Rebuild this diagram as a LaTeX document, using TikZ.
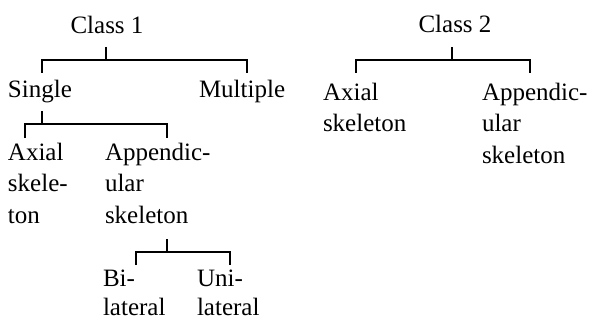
\documentclass[tikz,border=0pt]{standalone}
\usepackage{fontspec}
\setmainfont{Liberation Serif}
\begin{document}
\begin{tikzpicture}[x=1pt,y=1pt,
  lbl/.style={inner sep=0pt, outer sep=0pt, align=left, anchor=base west,
              font=\fontsize{25}{31.5}\selectfont},
  br/.style={line width=2pt, line cap=butt, line join=miter}]
\useasboundingbox (0,0) rectangle (592,-321);
% labels (multi-line nodes are placed by the baseline of their last line)
\node[lbl, anchor=base] (c1) at (107,-34) {Class 1};
\node[lbl, anchor=base] (c2) at (455,-33) {Class 2};
\node[lbl] (sg) at (8,-97) {Single};
\node[lbl] (mp) at (199,-97) {Multiple};
\node[lbl] (ax1) at (8,-223) {Axial\\skele-\\ton};
\node[lbl] (ap1) at (105,-223) {Appendic-\\ular\\skeleton};
\node[lbl, font=\fontsize{25}{29}\selectfont] (bi) at (103,-315.5) {Bi-\\lateral};
\node[lbl, font=\fontsize{25}{29}\selectfont] (un) at (197,-315.5) {Uni-\\lateral};
\node[lbl] (ax2) at (323,-131.5) {Axial\\skeleton};
\node[lbl] (ap2) at (482,-163) {Appendic-\\ular\\skeleton};
% junction coordinates
\coordinate (c1s) at (106,-47);  \coordinate (c1b) at (106,-60);
\coordinate (sgT) at (42,-73);   \coordinate (mpT) at (247,-73);
\coordinate (sgs) at (42,-111);  \coordinate (sgb) at (42,-124);
\coordinate (ax1T) at (25,-138); \coordinate (ap1T) at (167,-138);
\coordinate (ap1s) at (167,-239); \coordinate (ap1b) at (167,-252);
\coordinate (biT) at (136,-265); \coordinate (unT) at (230,-265);
\coordinate (c2s) at (452,-47);  \coordinate (c2b) at (452,-60);
\coordinate (ax2T) at (356,-73); \coordinate (ap2T) at (530,-73);
% brackets
\draw[br] (c1s) -- (c1b);
\draw[br] (sgT) |- (mpT |- c1b) -- (mpT);
\draw[br] (sgs) -- (sgb);
\draw[br] (ax1T) |- (ap1T |- sgb) -- (ap1T);
\draw[br] (ap1s) -- (ap1b);
\draw[br] (biT) |- (unT |- ap1b) -- (unT);
\draw[br] (c2s) -- (c2b);
\draw[br] (ax2T) |- (ap2T |- c2b) -- (ap2T);
\end{tikzpicture}
\end{document}
